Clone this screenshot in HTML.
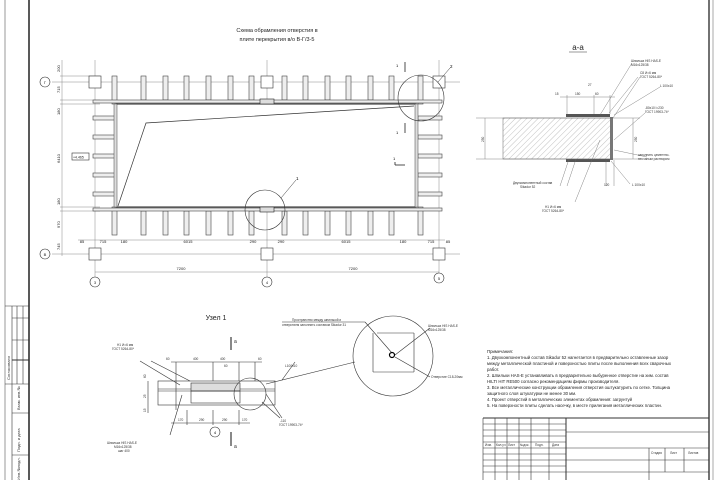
<!DOCTYPE html>
<html><head><meta charset="utf-8"><style>
html,body{margin:0;padding:0;background:#fff;}
svg{display:block;font-family:"Liberation Sans",sans-serif;}
</style></head><body>
<svg width="720" height="480" viewBox="0 0 720 480" xmlns="http://www.w3.org/2000/svg">
<defs>
<pattern id="h" width="4" height="4" patternUnits="userSpaceOnUse" patternTransform="rotate(45)">
<line x1="0" y1="0" x2="0" y2="4" stroke="#999" stroke-width="0.6"/></pattern>
</defs>
<rect width="720" height="480" fill="#fff"/>
<!-- frame -->
<line x1="5" y1="0" x2="5" y2="480" stroke="#999" stroke-width="1"/>
<line x1="29" y1="0" x2="29" y2="480" stroke="#222" stroke-width="1.5"/>
<line x1="709" y1="0" x2="709" y2="480" stroke="#444" stroke-width="1.5"/>
<line x1="713" y1="0" x2="713" y2="480" stroke="#aaa" stroke-width="1"/>
<!-- left stamp -->
<g stroke="#333" stroke-width="0.6" fill="none">
<line x1="5" y1="306" x2="29" y2="306"/>
<line x1="12" y1="306" x2="12" y2="480"/>
<line x1="17" y1="306" x2="17" y2="384"/>
<line x1="23" y1="306" x2="23" y2="384"/>
<line x1="12" y1="318" x2="29" y2="318"/>
<line x1="12" y1="340" x2="29" y2="340"/>
<line x1="12" y1="360" x2="29" y2="360" stroke-width="1"/>
<line x1="5" y1="384" x2="29" y2="384"/>
<line x1="12" y1="413" x2="29" y2="413"/>
<line x1="12" y1="455" x2="29" y2="455"/>
</g>
<g font-size="4" fill="#333">
<text transform="translate(10,380) rotate(-90)">Согласовано</text>
<text transform="translate(20,410) rotate(-90)">Взам. инв.№</text>
<text transform="translate(20,452) rotate(-90)">Подп. и дата</text>
<text transform="translate(20,480) rotate(-90)">Инв.№подл.</text>
</g>
<!-- title -->
<g font-size="5.5" fill="#222" text-anchor="middle">
<text x="277" y="32">Схема обрамления отверстия в</text>
<text x="277" y="41">плите перекрытия в/о В-Г/3-5</text>
</g>
<!-- grid axes -->
<g stroke="#888" stroke-width="0.5" fill="none">
<line x1="95" y1="60" x2="95" y2="278"/>
<line x1="267" y1="60" x2="267" y2="278"/>
<line x1="439" y1="60" x2="439" y2="278"/>
<line x1="52" y1="82" x2="460" y2="82"/>
<line x1="52" y1="254" x2="460" y2="254"/>
<line x1="60" y1="76" x2="100" y2="76"/>
<line x1="60" y1="100" x2="100" y2="100"/>
<line x1="60" y1="104" x2="100" y2="104"/>
<line x1="60" y1="207" x2="100" y2="207"/>
<line x1="60" y1="211" x2="100" y2="211"/>
<line x1="62" y1="60" x2="62" y2="256"/>
<line x1="78" y1="240" x2="445" y2="240"/>
<line x1="95" y1="272" x2="439" y2="272"/>
</g>
<g stroke="#333" stroke-width="0.6" fill="#fff">
<circle cx="45" cy="82" r="5"/><circle cx="45" cy="254" r="5"/>
<circle cx="95" cy="282" r="5"/><circle cx="267" cy="282" r="5"/><circle cx="439" cy="278" r="5"/>
<rect x="89" y="76" width="12" height="12"/><rect x="261" y="76" width="12" height="12"/><rect x="433" y="76" width="12" height="12"/>
<rect x="89" y="248" width="12" height="12"/><rect x="261" y="248" width="12" height="12"/><rect x="433" y="248" width="12" height="12"/>
</g>
<g font-size="4" fill="#222" text-anchor="middle">
<text x="45" y="84">Г</text><text x="45" y="256">В</text>
<text x="95" y="284">3</text><text x="267" y="284">4</text><text x="439" y="280">5</text>
<text x="82" y="243">85</text><text x="103" y="243">715</text><text x="124" y="243">180</text>
<text x="188" y="243">6015</text><text x="253" y="243">290</text><text x="281" y="243">290</text>
<text x="346" y="243">6015</text><text x="403" y="243">180</text><text x="431" y="243">715</text><text x="448" y="243">85</text>
<text x="181" y="270">7200</text><text x="353" y="270">7200</text>
</g>
<g font-size="4" fill="#222">
<text transform="translate(60,72) rotate(-90)">200</text>
<text transform="translate(60,93) rotate(-90)">715</text>
<text transform="translate(60,115) rotate(-90)">180</text>
<text transform="translate(60,163) rotate(-90)">6410</text>
<text transform="translate(60,205) rotate(-90)">180</text>
<text transform="translate(60,228) rotate(-90)">970</text>
<text transform="translate(60,250) rotate(-90)">745</text>
</g>
<rect x="72" y="153" width="17" height="7" fill="#fff" stroke="#333" stroke-width="0.6"/>
<text x="73" y="158.5" font-size="3.5" fill="#222">+4.465</text>
<!-- joists top/bottom -->
<g fill="#eee" stroke="#444" stroke-width="0.6">
<rect x="112" y="76" width="5" height="28"/><rect x="141" y="76" width="5" height="24"/><rect x="163" y="76" width="5" height="24"/>
<rect x="184" y="76" width="5" height="24"/><rect x="206" y="76" width="5" height="24"/><rect x="228" y="76" width="5" height="24"/>
<rect x="249" y="76" width="5" height="24"/><rect x="282" y="76" width="5" height="24"/><rect x="303" y="76" width="5" height="24"/>
<rect x="325" y="76" width="5" height="24"/><rect x="346" y="76" width="5" height="24"/><rect x="368" y="76" width="5" height="24"/>
<rect x="389" y="76" width="5" height="24"/><rect x="418" y="76" width="5" height="28"/>
<rect x="112" y="207" width="5" height="28"/><rect x="141" y="211" width="5" height="24"/><rect x="163" y="211" width="5" height="24"/>
<rect x="184" y="211" width="5" height="24"/><rect x="206" y="211" width="5" height="24"/><rect x="228" y="211" width="5" height="24"/>
<rect x="249" y="211" width="5" height="24"/><rect x="282" y="211" width="5" height="24"/><rect x="303" y="211" width="5" height="24"/>
<rect x="325" y="211" width="5" height="24"/><rect x="346" y="211" width="5" height="24"/><rect x="368" y="211" width="5" height="24"/>
<rect x="389" y="211" width="5" height="24"/><rect x="418" y="207" width="5" height="28"/>
<rect x="93" y="100" width="349" height="3"/><rect x="93" y="208" width="349" height="3"/>
<rect x="93" y="116" width="24" height="4"/><rect x="93" y="135" width="24" height="4"/><rect x="93" y="154" width="24" height="4"/><rect x="93" y="173" width="24" height="4"/><rect x="93" y="192" width="24" height="4"/>
<rect x="418" y="116" width="24" height="4"/><rect x="418" y="135" width="24" height="4"/><rect x="418" y="154" width="24" height="4"/><rect x="418" y="173" width="24" height="4"/><rect x="418" y="192" width="24" height="4"/>
</g>
<rect x="116" y="104" width="300" height="103" fill="#fff" stroke="#222" stroke-width="1"/>
<rect x="114" y="104" width="3" height="103" fill="#ddd" stroke="#444" stroke-width="0.5"/>
<rect x="415" y="104" width="3" height="103" fill="#ddd" stroke="#444" stroke-width="0.5"/>
<rect x="260" y="99" width="14" height="5" fill="#ddd" stroke="#222" stroke-width="0.6"/>
<rect x="260" y="207" width="14" height="5" fill="#ddd" stroke="#222" stroke-width="0.6"/>
<polyline points="118,206 146,123 414,106" fill="none" stroke="#333" stroke-width="0.7"/>
<circle cx="265" cy="210" r="20" fill="none" stroke="#333" stroke-width="0.6"/>
<line x1="281" y1="198" x2="296" y2="180" stroke="#333" stroke-width="0.5"/>
<text x="296" y="180" font-size="4.5">1</text>
<circle cx="421" cy="98" r="23" fill="none" stroke="#333" stroke-width="0.6"/>
<line x1="438" y1="82" x2="450" y2="68" stroke="#333" stroke-width="0.5"/>
<text x="450" y="68" font-size="4.5">2</text>
<g stroke="#222" stroke-width="0.8"><line x1="405" y1="62" x2="405" y2="72"/><line x1="405" y1="123" x2="405" y2="133"/><line x1="395" y1="162" x2="395" y2="165"/><line x1="395" y1="165" x2="405" y2="165"/></g>
<g font-size="4"><text x="396" y="67">1</text><text x="396" y="134">1</text><text x="393" y="160">1</text></g>
<!-- section a-a -->
<text x="578" y="50" font-size="8" text-anchor="middle" fill="#222">а-а</text>
<line x1="569" y1="52" x2="587" y2="52" stroke="#333" stroke-width="0.5"/>
<rect x="503" y="118" width="108" height="41" fill="url(#h)" stroke="#666" stroke-width="0.5"/>
<rect x="566" y="114" width="44" height="3" fill="#555"/>
<rect x="566" y="159" width="44" height="3" fill="#555"/>
<rect x="610" y="117" width="3" height="43" fill="#777"/>
<g stroke="#666" stroke-width="0.4" fill="none">
<line x1="476" y1="118" x2="640" y2="118"/><line x1="476" y1="159" x2="640" y2="159"/>
<line x1="567" y1="95" x2="567" y2="114"/><line x1="594" y1="95" x2="594" y2="114"/><line x1="610" y1="95" x2="610" y2="114"/>
<line x1="560" y1="97" x2="615" y2="97"/><line x1="606" y1="160" x2="606" y2="186"/><line x1="614" y1="160" x2="614" y2="186"/>
<line x1="485" y1="118" x2="485" y2="159"/><line x1="633" y1="118" x2="633" y2="159"/>
<line x1="569" y1="159" x2="560" y2="186"/><line x1="576" y1="159" x2="567" y2="186"/><line x1="600" y1="140" x2="575" y2="202"/>
<line x1="600" y1="115" x2="632" y2="63"/><line x1="613" y1="118" x2="640" y2="77"/><line x1="609" y1="113" x2="638" y2="77"/>
<line x1="614" y1="115" x2="660" y2="87"/><line x1="614" y1="140" x2="645" y2="113"/><line x1="614" y1="150" x2="647" y2="157"/>
<line x1="611" y1="161" x2="630" y2="184"/>
</g>
<g font-size="3.2" fill="#333">
<text x="555" y="95">15</text><text x="575" y="95">150</text><text x="595" y="95">60</text><text x="588" y="86">27</text>
<text x="631" y="62">Шпилька HIS HAS-E</text><text x="631" y="66">M16x125/38</text>
<text x="640" y="74">С8 И=6 мм</text><text x="640" y="78">ГОСТ 5264-80*</text>
<text x="660" y="87">L 100x10</text><text x="645" y="109">-80x10 l=230</text><text x="645" y="113">ГОСТ 19903-74*</text>
<text x="638" y="156">заполнить цементно-</text><text x="638" y="160">песчаным раствором</text>
<text x="632" y="186">L 100x10</text><text x="604" y="186">120</text>
<text x="513" y="184">Двухкомпонентный состав</text><text x="520" y="188">Sikadur 52</text>
<text x="545" y="208">Н1 И=6 мм</text><text x="542" y="212">ГОСТ 5264-80*</text>
<text transform="translate(484,142) rotate(-90)">250</text><text transform="translate(637,142) rotate(-90)">250</text>
</g>
<!-- Узел 1 -->
<text x="216" y="320" font-size="7" text-anchor="middle" fill="#222">Узел 1</text>
<g stroke="#333" stroke-width="0.6" fill="none">
<rect x="158" y="381" width="117" height="24"/>
<line x1="158" y1="389" x2="275" y2="389"/><line x1="158" y1="391" x2="275" y2="391"/>
<rect x="191" y="383" width="49" height="8" fill="#ddd"/><rect x="191" y="391" width="49" height="12"/>
<line x1="176" y1="362" x2="176" y2="410"/><line x1="213" y1="362" x2="213" y2="381"/><line x1="239" y1="362" x2="239" y2="381"/>
<line x1="255" y1="362" x2="255" y2="381"/><line x1="171" y1="362" x2="262" y2="362"/>
<line x1="171" y1="423" x2="250" y2="423"/><line x1="187" y1="410" x2="187" y2="425"/><line x1="213" y1="410" x2="213" y2="425"/><line x1="239" y1="410" x2="239" y2="425"/>
<line x1="148" y1="381" x2="148" y2="413"/>
<circle cx="250" cy="394" r="16"/>
<circle cx="215" cy="432" r="5"/>
<line x1="151" y1="361" x2="190" y2="381"/><line x1="140" y1="361" x2="180" y2="385"/>
<line x1="170" y1="435" x2="182" y2="395"/><line x1="282" y1="380" x2="295" y2="362"/>
<line x1="262" y1="402" x2="280" y2="418"/><line x1="266" y1="394" x2="282" y2="418"/>
<line x1="266" y1="384" x2="355" y2="362"/>
<circle cx="393" cy="356" r="40"/>
<line x1="377" y1="333" x2="414" y2="333"/><line x1="373" y1="372" x2="414" y2="372"/>
<line x1="373" y1="333" x2="373" y2="372"/><line x1="414" y1="333" x2="414" y2="372"/>
<line x1="282" y1="322" x2="365" y2="322"/><line x1="365" y1="322" x2="392" y2="353"/>
<line x1="395" y1="355" x2="430" y2="328"/><line x1="395" y1="357" x2="430" y2="377"/>
</g>
<circle cx="392" cy="355" r="2.5" fill="none" stroke="#000" stroke-width="1.2"/>
<g stroke="#111" stroke-width="1"><line x1="231" y1="337" x2="231" y2="350"/><line x1="231" y1="432" x2="231" y2="446"/></g>
<g font-size="5" fill="#222"><text x="234" y="343">а</text><text x="234" y="448">а</text></g>
<text x="215" y="434" font-size="4" text-anchor="middle">4</text>
<g font-size="3.2" fill="#333">
<text x="117" y="346">Н1 И=6 мм</text><text x="112" y="350">ГОСТ 5264-80*</text>
<text x="166" y="360">60</text><text x="193" y="360">400</text><text x="220" y="360">400</text><text x="224" y="367">60</text><text x="258" y="360">60</text>
<text x="178" y="421">170</text><text x="199" y="421">290</text><text x="222" y="421">290</text><text x="242" y="421">170</text>
<text x="285" y="367">L100x10</text><text x="280" y="422">-110</text><text x="279" y="426">ГОСТ 19903-74*</text>
<text x="107" y="444">Шпилька HIS HAS-E</text><text x="114" y="448">M16x125/38</text><text x="118" y="452">шаг 400</text>
<text x="292" y="321">Пространство между шпилькой и</text><text x="282" y="326">отверстием заполнить составом Sikadur 31</text>
<text x="428" y="327">Шпилька HIS HAS-E</text><text x="428" y="331">M16x125/38</text>
<text x="431" y="378">Отверстие С18-20мм</text>
<text transform="translate(146,378) rotate(-90)">60</text><text transform="translate(146,398) rotate(-90)">25</text><text transform="translate(146,412) rotate(-90)">15</text>
</g>
<!-- notes -->
<g font-size="4.3" fill="#222">
<text x="487" y="353">Примечания:</text>
<text x="487" y="359">1. Двухкомпонентный состав Sikadur 52 нагнетается в предварительно оставленные зазор</text>
<text x="487" y="365">между металлической пластиной и поверхностью плиты после выполнения всех сварочных</text>
<text x="487" y="371">работ.</text>
<text x="487" y="377">2. Шпильки HAS-E устанавливать в предварительно выбуренное отверстие на хим. состав</text>
<text x="487" y="383">HILTI HIT RE500 согласно рекомендациям фирмы производителя.</text>
<text x="487" y="389">3. Все металлические конструкции обрамления отверстия оштукатурить по сетке. Толщина</text>
<text x="487" y="395">защитного слоя штукатурки не менее 30 мм.</text>
<text x="487" y="401">4. Проект отверстий в металлических элементах обрамления: загрунтуй</text>
<text x="487" y="407">5. На поверхности плиты сделать насечку, в месте прилегания металлических пластин.</text>
</g>
<!-- title block -->
<g stroke="#333" stroke-width="0.6" fill="none">
<line x1="483" y1="418" x2="709" y2="418" stroke-width="1"/>
<line x1="483" y1="418" x2="483" y2="480"/>
<line x1="495" y1="418" x2="495" y2="480"/><line x1="507" y1="418" x2="507" y2="480"/><line x1="519" y1="418" x2="519" y2="480"/>
<line x1="531" y1="418" x2="531" y2="480"/><line x1="549" y1="418" x2="549" y2="480"/><line x1="566" y1="418" x2="566" y2="480" stroke-width="1"/>
<line x1="483" y1="424" x2="566" y2="424"/><line x1="483" y1="430" x2="566" y2="430"/><line x1="483" y1="436" x2="566" y2="436"/>
<line x1="483" y1="442" x2="566" y2="442"/><line x1="483" y1="448" x2="709" y2="448"/><line x1="483" y1="454" x2="566" y2="454"/>
<line x1="483" y1="460" x2="709" y2="460"/><line x1="483" y1="466" x2="566" y2="466"/><line x1="483" y1="472" x2="709" y2="472"/>
<line x1="566" y1="432" x2="709" y2="432"/><line x1="649" y1="448" x2="649" y2="480"/>
<line x1="665" y1="448" x2="665" y2="472"/><line x1="684" y1="448" x2="684" y2="472"/>
</g>
<g font-size="3.2" fill="#333">
<text x="485" y="446">Изм.</text><text x="496" y="446">Кол.уч</text><text x="508" y="446">Лист</text><text x="520" y="446">№док.</text><text x="535" y="446">Подп.</text><text x="552" y="446">Дата</text>
<text x="651" y="454">Стадия</text><text x="670" y="454">Лист</text><text x="688" y="454">Листов</text>
</g>
</svg>
</body></html>
